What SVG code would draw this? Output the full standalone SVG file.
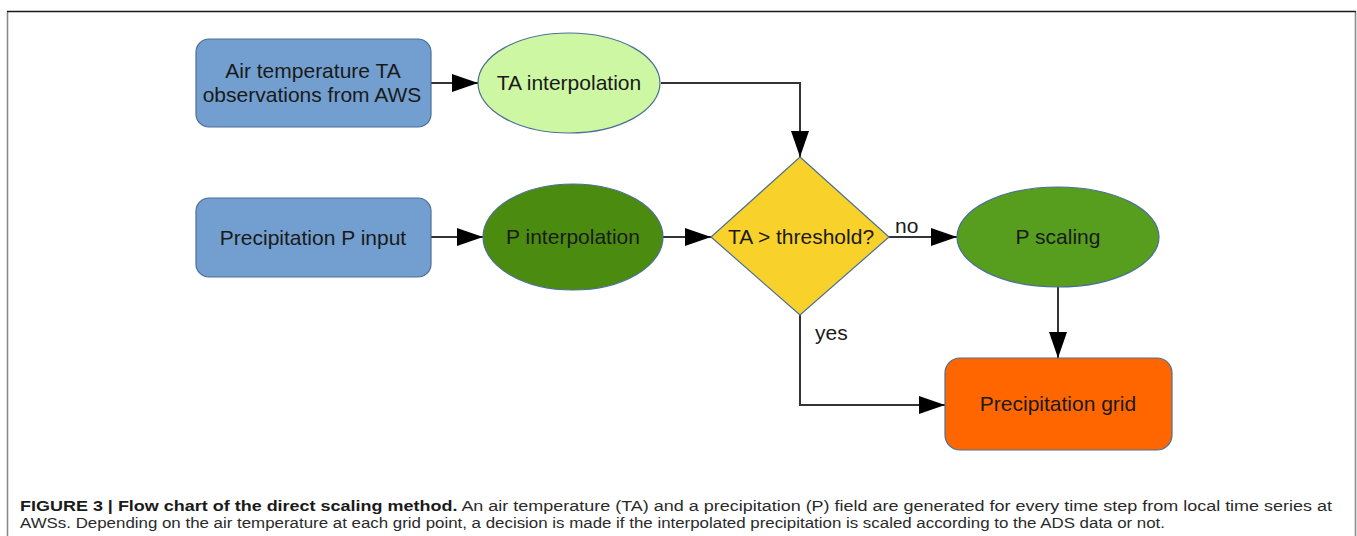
<svg xmlns="http://www.w3.org/2000/svg" width="1357" height="536" viewBox="0 0 1357 536">
  <style>
    .lbl { font-family: "Liberation Sans", Arial, sans-serif; font-size: 21px; fill: #1a1a1a; text-anchor: middle; }
    .elbl { font-family: "Liberation Sans", Arial, sans-serif; font-size: 21px; fill: #1a1a1a; }
    .conn { fill: none; stroke: #333333; stroke-width: 2; }
    .shape { stroke: #4a6f96; stroke-width: 1.2; }
    .cap { font-family: "Liberation Sans", Arial, sans-serif; font-size: 15.5px; fill: #2a2a2a; }
  </style>
  <defs>
    <marker id="arr" markerUnits="userSpaceOnUse" markerWidth="26" markerHeight="18" refX="26" refY="9" orient="auto">
      <path d="M0,0 L26,9 L0,18 Z" fill="#000000"/>
    </marker>
  </defs>
  <rect width="1357" height="536" fill="#ffffff"/>
  <path d="M7.5,540 V11.5" stroke="#8a8a8a" stroke-width="1.6" fill="none"/>
  <path d="M1355.5,540 V11.5" stroke="#8a8a8a" stroke-width="1.6" fill="none"/>
  <path d="M7,11.5 H1356" stroke="#1a1a1a" stroke-width="1.6" fill="none"/>

  <g id="connectors">
    <path class="conn" d="M431,83 H478" marker-end="url(#arr)"/>
    <path class="conn" d="M661,83 H800 V157" marker-end="url(#arr)"/>
    <path class="conn" d="M431,237 H483" marker-end="url(#arr)"/>
    <path class="conn" d="M663,237 H711" marker-end="url(#arr)"/>
    <path class="conn" d="M889,237 H957" marker-end="url(#arr)"/>
    <path class="conn" d="M1058,287 V358" marker-end="url(#arr)"/>
    <path class="conn" d="M800,315 V405 H945" marker-end="url(#arr)"/>
    <text class="elbl" x="895" y="233">no</text>
    <text class="elbl" x="815" y="340">yes</text>
  </g>

  <g id="node-ta-obs">
    <rect class="shape" x="196" y="39" width="235" height="88" rx="13" fill="#729fcf"/>
    <text class="lbl" x="313" y="78">Air temperature TA</text>
    <text class="lbl" x="312" y="102">observations from AWS</text>
  </g>
  <g id="node-ta-interp">
    <ellipse class="shape" cx="569" cy="83" rx="91" ry="50" fill="#cdf7a3"/>
    <text class="lbl" x="569" y="90">TA interpolation</text>
  </g>
  <g id="node-p-input">
    <rect class="shape" x="196" y="198" width="235" height="79" rx="13" fill="#729fcf"/>
    <text class="lbl" x="313" y="245">Precipitation P input</text>
  </g>
  <g id="node-p-interp">
    <ellipse class="shape" cx="573" cy="237" rx="90" ry="53" fill="#4b8c10"/>
    <text class="lbl" x="573" y="244">P interpolation</text>
  </g>
  <g id="node-decision">
    <polygon class="shape" points="800,157 889,237 800,315 711,237" fill="#f8d12b"/>
    <text class="lbl" x="801" y="244">TA &gt; threshold?</text>
  </g>
  <g id="node-p-scaling">
    <ellipse class="shape" cx="1058" cy="237" rx="101" ry="50" fill="#579e1e"/>
    <text class="lbl" x="1058" y="244">P scaling</text>
  </g>
  <g id="node-p-grid">
    <rect class="shape" x="945" y="358" width="227" height="92" rx="15" fill="#ff6600"/>
    <text class="lbl" x="1058" y="411">Precipitation grid</text>
  </g>

  <text class="cap" x="20" y="511" textLength="1312" lengthAdjust="spacingAndGlyphs"><tspan font-weight="bold" fill="#1a1a1a">FIGURE 3 | Flow chart of the direct scaling method.</tspan> An air temperature (TA) and a precipitation (P) field are generated for every time step from local time series at</text>
  <text class="cap" x="20" y="528" textLength="1145" lengthAdjust="spacingAndGlyphs">AWSs. Depending on the air temperature at each grid point, a decision is made if the interpolated precipitation is scaled according to the ADS data or not.</text>
</svg>
